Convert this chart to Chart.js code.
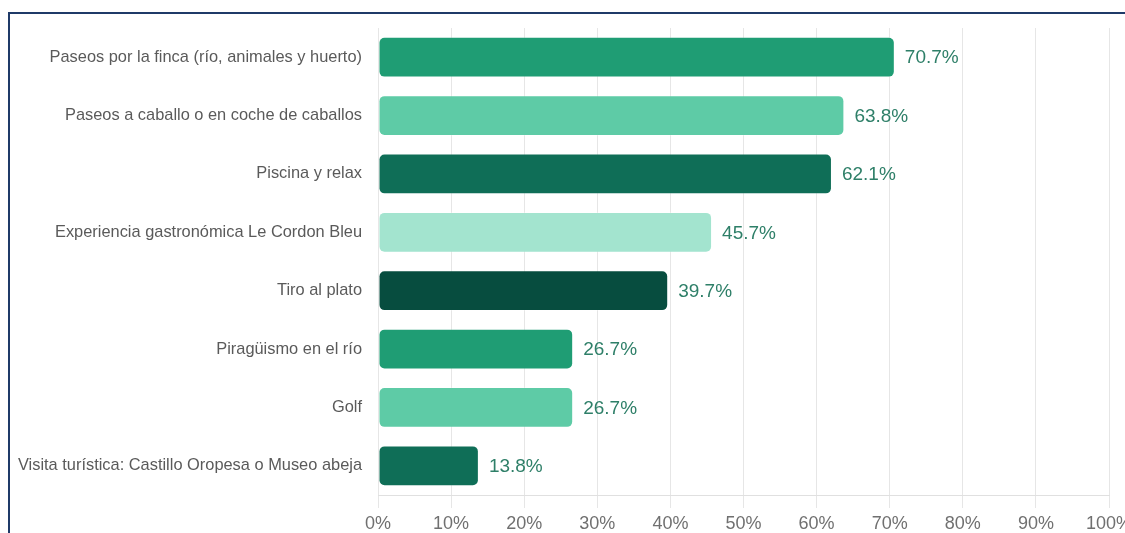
<!DOCTYPE html>
<html>
<head>
<meta charset="utf-8">
<script src="https://cdn.jsdelivr.net/npm/chart.js@4/dist/chart.umd.min.js"></script>
<style>
  html, body { margin: 0; padding: 0; background: #fff; overflow: hidden; width: 1125px; height: 533px; }
  .frame {
    position: absolute; left: 8px; top: 12px; width: 1300px; height: 700px;
    border-top: 2px solid #1f3a68; border-left: 2px solid #1f3a68; box-sizing: border-box;
  }
  .wrap { position: absolute; left: 0; top: 0; width: 1200px; height: 533px; }
</style>
</head>
<body>
<div class="frame"></div>
<div class="wrap"><canvas id="chart"></canvas></div>
<script>
const categories = [
  "Paseos por la finca (río, animales y huerto)",
  "Paseos a caballo o en coche de caballos",
  "Piscina y relax",
  "Experiencia gastronómica Le Cordon Bleu",
  "Tiro al plato",
  "Piragüismo en el río",
  "Golf",
  "Visita turística: Castillo Oropesa o Museo abeja"
];
const percentages = [70.7, 63.8, 62.1, 45.7, 39.7, 26.7, 26.7, 13.8];
const barColors = ["#1f9d74", "#5ecba6", "#0f6e57", "#a3e4cf", "#074d3f", "#1f9d74", "#5ecba6", "#0f6e57"];
const tickValues = [0, 10, 20, 30, 40, 50, 60, 70, 80, 90, 100];

const FONT = "'Liberation Sans', Arial, sans-serif";

// Writes each bar's percentage just past its end
const valueLabels = {
  id: "valueLabels",
  afterDatasetsDraw(chart) {
    const ctx = chart.ctx;
    const meta = chart.getDatasetMeta(0);
    ctx.save();
    ctx.font = "19px " + FONT;
    ctx.fillStyle = "#2e7f68";
    ctx.textAlign = "left";
    ctx.textBaseline = "middle";
    meta.data.forEach((bar, i) => {
      ctx.fillText(percentages[i].toFixed(1) + "%", bar.x + 10, bar.y + 1);
    });
    ctx.restore();
  }
};

new Chart(document.getElementById("chart"), {
  type: "bar",
  data: {
    labels: categories,
    datasets: [{
      data: percentages,
      backgroundColor: barColors,
      borderColor: "rgba(255,255,255,0.25)",
      borderWidth: 1,
      borderSkipped: false,
      borderRadius: 6,
      categoryPercentage: 0.7,
      barPercentage: 1.0
    }]
  },
  options: {
    indexAxis: "y",
    responsive: true,
    maintainAspectRatio: false,
    animation: false,
    layout: { padding: { left: 0, right: 91, top: 28, bottom: 0 } },
    plugins: { legend: { display: false }, tooltip: { enabled: false } },
    scales: {
      x: {
        min: 0,
        max: 100,
        afterBuildTicks(scale) { scale.ticks = tickValues.map(v => ({ value: v })); },
        afterFit(scale) { scale.height = 38; },
        grid: { color: "#e6e6e6", lineWidth: 1, tickLength: 13, drawTicks: true },
        border: { color: "#e0e0e0" },
        ticks: {
          color: "#707070",
          font: { family: FONT, size: 18 },
          padding: 5,
          callback: v => v + "%"
        }
      },
      y: {
        afterFit(scale) { scale.width = 378; },
        grid: { display: false },
        border: { display: false },
        ticks: {
          color: "#5a5a5a",
          font: { family: FONT, size: 16.4 },
          padding: 8
        }
      }
    }
  },
  plugins: [valueLabels]
});
</script>
</body>
</html>
